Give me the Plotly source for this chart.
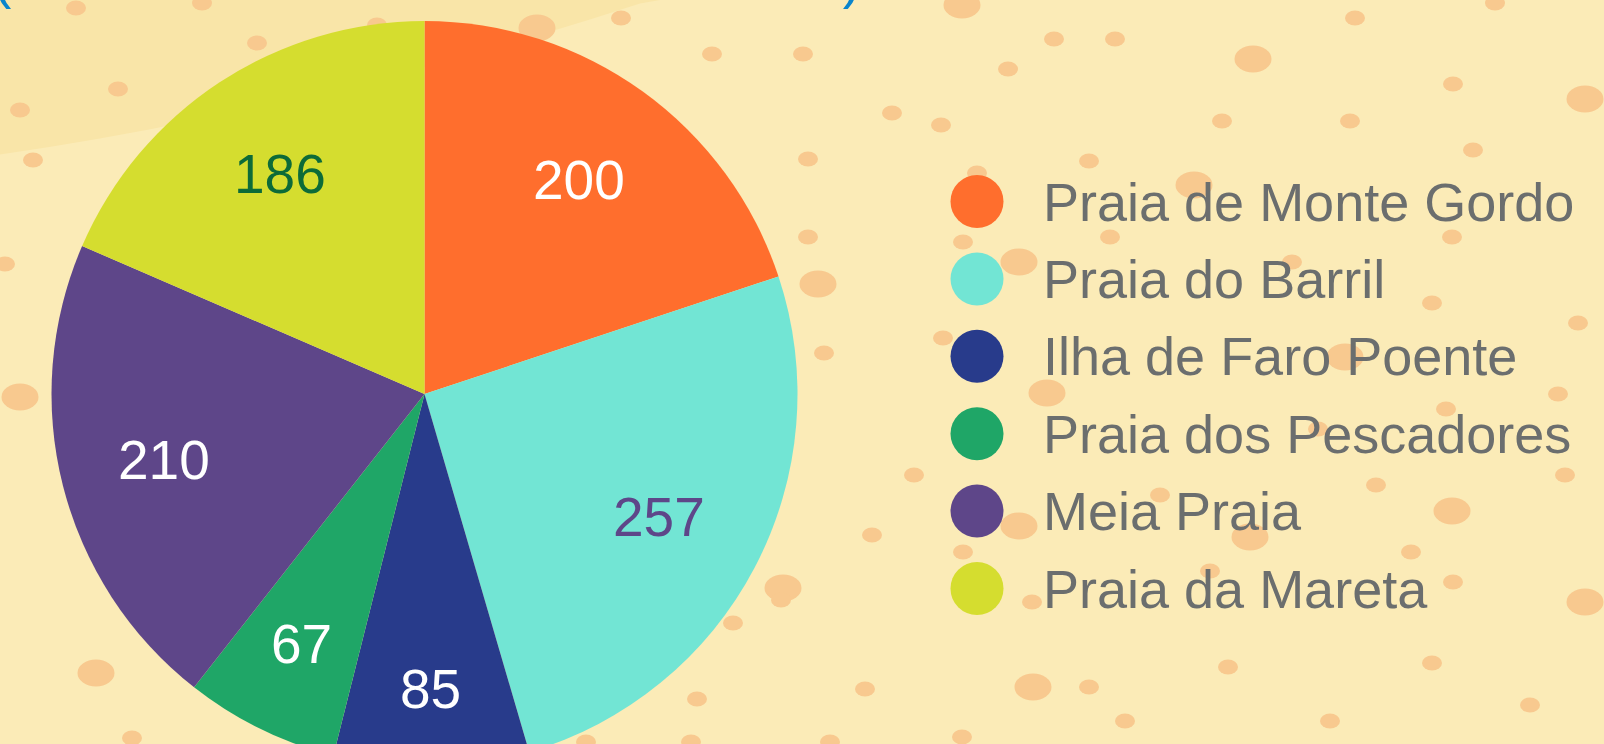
import numpy as np
import plotly.graph_objects as go

# ---------------- data ----------------
beaches = ["Praia de Monte Gordo", "Praia do Barril", "Ilha de Faro Poente",
           "Praia dos Pescadores", "Meia Praia", "Praia da Mareta"]
visitors = [200, 257, 85, 67, 210, 186]
slice_colors = ["#FF6E2D", "#72E5D4", "#283B8B", "#1FA667", "#5E4689", "#D5DD2F"]
label_colors = ["#FFFFFF", "#5E4689", "#FFFFFF", "#FFFFFF", "#FFFFFF", "#0D6B38"]
title_text = "(Número de visitantes em milhares)"

# ---------------- layout constants (pixels) ----------------
W, H = 1604, 800           # figure taller than the window -> bottom of pie is cropped
PIE_CX, PIE_CY, PIE_R = 424.5, 394.0, 373.0
LABEL_RADIUS = [0.706, 0.711, 0.79, 0.747, 0.72, 0.705]   # fraction of pie radius
FONT = "Liberation Sans, Arial, sans-serif"
BG = "#FBEBB7"
BAND = "#F9E5A8"
DOT = "#F8C98F"

# decorative sand dots (x, y, big?) in pixels
dots = [
    (76, 8, 0), (202, 3, 0), (257, 43, 0), (20, 110, 0), (118, 89, 0), (33, 160, 0),
    (377, 25, 0), (5, 264, 0), (20, 397, 1), (96, 673, 1), (132, 738, 0),
    (537, 28, 1), (621, 18, 0), (712, 54, 0), (803, 54, 0), (892, 113, 0), (941, 125, 0),
    (808, 159, 0), (808, 237, 0), (818, 284, 1), (824, 353, 0), (962, 5, 1),
    (1008, 69, 0), (1054, 39, 0), (1115, 39, 0), (1253, 59, 1), (1355, 18, 0),
    (1495, 3, 0), (1453, 84, 0), (1585, 99, 1), (1473, 150, 0), (1222, 121, 0),
    (1350, 121, 0), (1089, 161, 0), (977, 173, 0), (1194, 185, 1), (963, 242, 0),
    (1110, 237, 0), (1452, 237, 0), (1019, 262, 1), (1292, 262, 0), (1432, 303, 0),
    (1578, 323, 0), (943, 338, 0), (1345, 357, 1), (1047, 393, 1), (1558, 394, 0),
    (1446, 409, 0), (1318, 429, 0), (914, 475, 0), (1376, 485, 0), (1565, 475, 0),
    (1160, 495, 0), (1019, 526, 1), (1250, 537, 1), (1452, 511, 1), (872, 535, 0),
    (963, 552, 0), (1411, 552, 0), (1210, 571, 0), (1453, 582, 0), (1585, 602, 1),
    (1032, 602, 0), (783, 588, 1), (733, 623, 0), (781, 600, 0), (697, 699, 0),
    (865, 689, 0), (1033, 687, 1), (1089, 687, 0), (1228, 667, 0), (1432, 663, 0),
    (1125, 721, 0), (962, 737, 0), (586, 742, 0), (691, 742, 0), (830, 742, 0),
    (1330, 721, 0), (1530, 705, 0),
]


def px(x):
    return x / W


def py(y):
    return 1 - y / H


shapes = []
# slightly darker sweeping band in the upper-left corner (edge of a huge circle)
bcx, bcy, br = -574.0, -3707.0, 3904.0
xs = np.linspace(0, 640, 40)
ys = bcy + np.sqrt(br ** 2 - (xs - bcx) ** 2)
path = f"M {px(0)},{py(0)} L {px(0)},{py(ys[0])} "
path += " ".join(f"L {px(a)},{py(b)}" for a, b in zip(xs, ys))
path += f" L {px(660)},{py(0)} Z"
shapes.append(dict(type="path", path=path, xref="paper", yref="paper",
                   fillcolor=BAND, line=dict(width=0), layer="below"))

for x, y, big in dots:
    rx, ry = (18.5, 13.5) if big else (10, 7.5)
    shapes.append(dict(type="circle", xref="paper", yref="paper",
                       x0=px(x - rx), x1=px(x + rx), y0=py(y + ry), y1=py(y - ry),
                       fillcolor=DOT, line=dict(width=0), layer="below"))

fig = go.Figure()

fig.add_trace(go.Pie(
    labels=beaches, values=visitors, sort=False, direction="clockwise", rotation=0,
    marker=dict(colors=slice_colors, line=dict(width=0)),
    textinfo="none",
    domain=dict(x=[px(PIE_CX - PIE_R), px(PIE_CX + PIE_R)],
                y=[py(PIE_CY + PIE_R), py(PIE_CY - PIE_R)]),
    showlegend=False, hoverinfo="label+value+percent",
))

# custom legend with large round markers
LEG_X, LEG_Y0, LEG_DY, LEG_TX = 977, 201.5, 77.4, 1041
leg_y = [LEG_Y0 + i * LEG_DY for i in range(len(beaches))]
fig.add_trace(go.Scatter(
    x=[LEG_X] * len(beaches), y=leg_y, mode="markers",
    marker=dict(size=53, color=slice_colors, line=dict(width=0)),
    showlegend=False, hoverinfo="skip",
))

annotations = []
for name, y in zip(beaches, leg_y):
    annotations.append(dict(x=LEG_TX, y=y, xref="x", yref="y", text=name, showarrow=False,
                            xanchor="left", yanchor="middle",
                            font=dict(family=FONT, size=54, color="#6B6E6E")))

# value labels at the middle angle of each slice
vals = np.array(visitors, dtype=float)
mid = (np.cumsum(vals) - vals / 2) / vals.sum() * 2 * np.pi
for v, a, f, c in zip(visitors, mid, LABEL_RADIUS, label_colors):
    annotations.append(dict(x=PIE_CX + f * PIE_R * np.sin(a), y=PIE_CY - f * PIE_R * np.cos(a),
                            xref="x", yref="y", text=str(v), showarrow=False,
                            xanchor="center", yanchor="middle",
                            font=dict(family=FONT, size=55, color=c)))

annotations.append(dict(x=px(427), y=py(-22), xref="paper", yref="paper", text=title_text,
                        showarrow=False, xanchor="center", yanchor="middle",
                        font=dict(family=FONT, size=55, color="#0A85CC")))

fig.update_layout(
    width=W, height=H, margin=dict(l=0, r=0, t=0, b=0),
    paper_bgcolor=BG, plot_bgcolor="rgba(0,0,0,0)",
    xaxis=dict(range=[0, W], visible=False, fixedrange=True, domain=[0, 1]),
    yaxis=dict(range=[H, 0], visible=False, fixedrange=True, domain=[0, 1]),
    shapes=shapes, annotations=annotations,
    font=dict(family=FONT), showlegend=False,
)

fig.write_html(
    "out.html",
    config={"displayModeBar": False},
    post_script=("document.body.style.margin='0';"
                 "document.body.style.overflow='hidden';"
                 "document.documentElement.style.overflow='hidden';"),
)
